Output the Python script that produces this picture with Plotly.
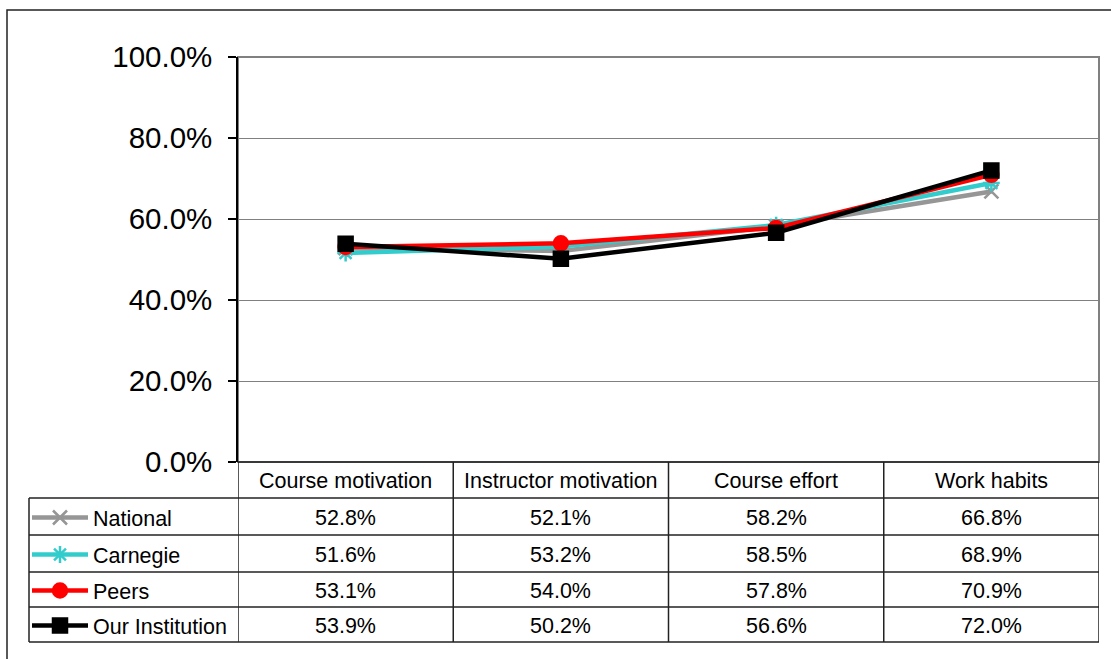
import plotly.graph_objects as go

categories = ["Course motivation", "Instructor motivation", "Course effort", "Work habits"]
series_names = ["National", "Carnegie", "Peers", "Our Institution"]
national = [52.8, 52.1, 58.2, 66.8]
carnegie = [51.6, 53.2, 58.5, 68.9]
peers = [53.1, 54.0, 57.8, 70.9]
our_institution = [53.9, 50.2, 56.6, 72.0]
y_ticks = [0, 20, 40, 60, 80, 100]

series_values = [national, carnegie, peers, our_institution]
colors = ["#969696", "#33CCCC", "#FF0000", "#000000"]
symbols = ["x-thin-open", "asterisk-open", "circle", "square"]
msizes = [14, 14, 14, 14]

W, H = 1111, 659
FONT = "Liberation Sans, Arial, sans-serif"

def px(x):
    return x / W

def py(y):
    return 1 - y / H

plot_left, plot_right, plot_top, plot_bottom = 238, 1099, 57, 462
row_lines = [462, 498, 535, 572, 607, 642]
table_left = 29

fig = go.Figure()

for name, vals, c, s, ms in zip(series_names, series_values, colors, symbols, msizes):
    fig.add_trace(go.Scatter(
        x=list(range(len(categories))), y=[v / 100 for v in vals],
        mode="lines+markers", name=name,
        line=dict(color=c, width=4.5),
        marker=dict(symbol=s, size=ms, color=c, line=dict(color=c, width=2.5)),
        showlegend=False, xaxis="x", yaxis="y", cliponaxis=False,
    ))

# legend keys inside the data table (pixel-space helper axes)
for i, (name, c, s, ms) in enumerate(zip(series_names, colors, symbols, msizes)):
    yc = (row_lines[i + 1] + row_lines[i + 2]) / 2 + 1
    fig.add_trace(go.Scatter(
        x=[32, 88], y=[yc, yc], mode="lines",
        line=dict(color=c, width=4.5), showlegend=False,
        xaxis="x2", yaxis="y2", hoverinfo="skip",
    ))
    fig.add_trace(go.Scatter(
        x=[60], y=[yc], mode="markers",
        marker=dict(symbol=s, size=ms, color=c, line=dict(color=c, width=2.5)),
        showlegend=False, xaxis="x2", yaxis="y2", hoverinfo="skip",
    ))

shapes = []
# outer chart border (cropped at right/bottom)
shapes.append(dict(type="rect", xref="paper", yref="paper",
                   x0=px(7), x1=px(1125), y0=py(675), y1=py(10),
                   line=dict(color="#222222", width=1.5)))
# plot area border (gray)
shapes.append(dict(type="rect", xref="paper", yref="paper",
                   x0=px(plot_left), x1=px(plot_right), y0=py(plot_bottom), y1=py(plot_top),
                   line=dict(color="#808080", width=2), layer="below"))
# table horizontal lines
for j, yl in enumerate(row_lines):
    x0 = plot_left if j == 0 else table_left
    shapes.append(dict(type="line", xref="paper", yref="paper",
                       x0=px(x0), x1=px(plot_right), y0=py(yl), y1=py(yl),
                       line=dict(color="#222222", width=1.5)))
# left table edge
shapes.append(dict(type="line", xref="paper", yref="paper",
                   x0=px(table_left), x1=px(table_left), y0=py(row_lines[1]), y1=py(row_lines[-1]),
                   line=dict(color="#222222", width=1.5)))
# column dividers in category coordinates
for k in range(len(categories) + 1):
    xv = k - 0.5
    shapes.append(dict(type="line", xref="x", yref="paper",
                       x0=xv, x1=xv, y0=py(row_lines[-1]), y1=py(row_lines[0]),
                       line=dict(color="#222222", width=1.5)))

TS = 21.5
annotations = []
for i, cat in enumerate(categories):
    annotations.append(dict(x=i, xref="x", y=py((row_lines[0] + row_lines[1]) / 2 + 1), yref="paper",
                            text=cat, showarrow=False, font=dict(family=FONT, size=TS, color="#000000"),
                            xanchor="center", yanchor="middle"))
for r, (name, vals) in enumerate(zip(series_names, series_values)):
    yc = (row_lines[r + 1] + row_lines[r + 2]) / 2 + 1
    annotations.append(dict(x=px(91), xref="paper", y=py(yc + 1), yref="paper",
                            text=name, showarrow=False, font=dict(family=FONT, size=TS, color="#000000"),
                            xanchor="left", yanchor="middle"))
    for i, v in enumerate(vals):
        annotations.append(dict(x=i, xref="x", y=py(yc), yref="paper",
                                text=f"{v:.1f}%", showarrow=False,
                                font=dict(family=FONT, size=TS, color="#000000"),
                                xanchor="center", yanchor="middle"))

fig.update_layout(
    width=W, height=H,
    margin=dict(l=0, r=0, t=0, b=0, pad=0, autoexpand=False),
    paper_bgcolor="#FFFFFF", plot_bgcolor="rgba(0,0,0,0)",
    font=dict(family=FONT, color="#000000"),
    xaxis=dict(domain=[px(plot_left), px(plot_right)], range=[-0.5, len(categories) - 0.5],
               showgrid=False, zeroline=False, showticklabels=False, ticks="", showline=False,
               fixedrange=True),
    yaxis=dict(domain=[py(plot_bottom), py(plot_top)], range=[0, 1],
               tickvals=[t / 100 for t in y_ticks], tickformat=".1%",
               showgrid=True, gridcolor="#808080", gridwidth=1,
               zeroline=False, showline=True, linecolor="#000000", linewidth=1.5,
               ticks="outside", ticklen=8, tickcolor="#000000", tickwidth=1.5,
               ticklabelstandoff=10, automargin=False,
               tickfont=dict(family=FONT, size=29.5, color="#000000"), fixedrange=True),
    xaxis2=dict(domain=[0, 1], range=[0, W], visible=False, showticklabels=False,
                anchor="y2", fixedrange=True, automargin=False),
    yaxis2=dict(domain=[0, 1], range=[H, 0], visible=False, showticklabels=False,
                anchor="x2", fixedrange=True, automargin=False),
    shapes=shapes, annotations=annotations,
    showlegend=False,
)

fig.write_html("out.html")
